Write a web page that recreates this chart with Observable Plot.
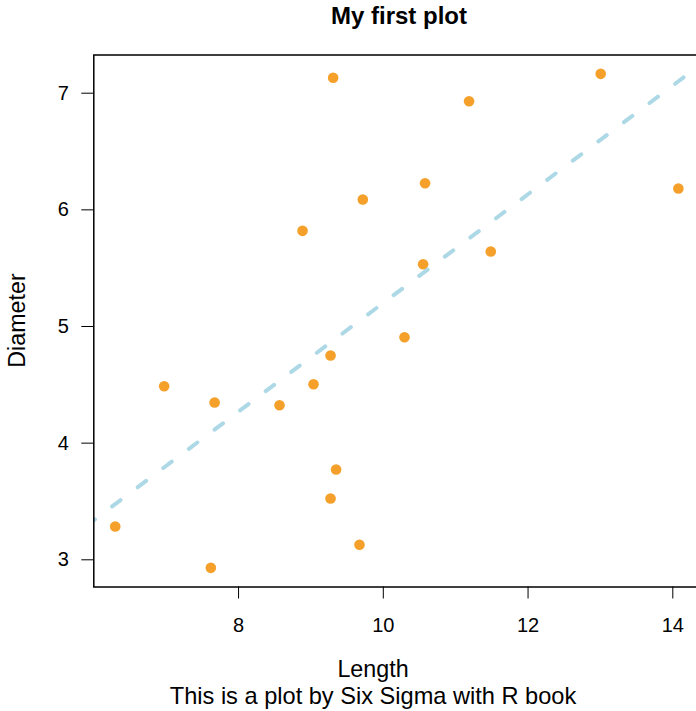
<!DOCTYPE html>
<html><head><meta charset="utf-8">
<script src="https://cdn.jsdelivr.net/npm/d3@7"></script>
<script src="https://cdn.jsdelivr.net/npm/@observablehq/plot@0.6"></script>
<style>html,body{margin:0;padding:0;background:#fff;overflow:hidden} svg{display:block}</style>
</head><body><div id="chart"></div>
<script>
const lengthValues = [9.307, 11.185, 13.004, 10.577, 9.717, 8.884, 14.077, 11.485, 10.550, 6.972,
  7.669, 8.566, 9.036, 9.271, 9.348, 9.271, 6.296, 7.617, 10.293, 9.671];
const diameterValues = [7.132, 6.931, 7.166, 6.228, 6.089, 5.820, 6.183, 5.643, 5.534, 4.488,
  4.348, 4.325, 4.505, 4.751, 3.774, 3.526, 3.285, 2.931, 4.908, 3.129];
const xTicks = [8, 10, 12, 14];
const yTicks = [3, 4, 5, 6, 7];
const titleText = "My first plot";
const xLabel = "Length";
const yLabel = "Diameter";
const captionText = "This is a plot by Six Sigma with R book";

const points = lengthValues.map((x, i) => ({length: x, diameter: diameterValues[i]}));
const mx = d3.mean(lengthValues), my = d3.mean(diameterValues);
const slope = d3.sum(points, d => (d.length - mx) * (d.diameter - my)) / d3.sum(points, d => (d.length - mx) ** 2);
const intercept = my - slope * mx;
const lineSpan = [5.9, 14.5];
const fitLine = lineSpan.map(x => ({length: x, diameter: intercept + slope * x}));

const font = "'Liberation Sans', Arial, Helvetica, sans-serif";
const chart = Plot.plot({
  width: 696,
  height: 711,
  marginLeft: 93.3,
  marginRight: -8,
  marginTop: 54.5,
  marginBottom: 124.5,
  style: {fontFamily: font, background: "#fff", color: "#000"},
  x: {domain: [6, 14], range: [93.3, 672.3]},
  y: {domain: [3, 7], range: [559.3, 92.7]},
  marks: [
    Plot.dot(points, {x: "length", y: "diameter", r: 5.3, fill: "#f4a02a", stroke: "none"}),
    Plot.line(fitLine, {x: "length", y: "diameter", stroke: "#add8e6", strokeWidth: 4,
      strokeDasharray: "10.5,21.5", strokeLinecap: "round", clip: true}),
    Plot.frame({stroke: "#000", strokeWidth: 1.5}),
    Plot.axisX(xTicks, {fontSize: 20, tickSize: 12, tickPadding: 19, label: null, stroke: "#000",
      tickFormat: d => String(d)}),
    Plot.axisY(yTicks, {fontSize: 20, tickSize: 12, tickPadding: 13, label: null, stroke: "#000",
      tickFormat: d => String(d)}),
    Plot.text([titleText], {frameAnchor: "top-left", dx: 305.2, dy: -39, text: d => d,
      textAnchor: "middle", lineAnchor: "middle", fontSize: 24, fontWeight: "bold", fill: "#000"}),
    Plot.text([xLabel], {frameAnchor: "bottom-left", dx: 279.2, dy: 83, text: d => d,
      textAnchor: "middle", lineAnchor: "middle", fontSize: 23.3, fill: "#000"}),
    Plot.text([captionText], {frameAnchor: "bottom-left", dx: 279.2, dy: 109.5, text: d => d,
      textAnchor: "middle", lineAnchor: "middle", fontSize: 23.6, fill: "#000"}),
    Plot.text([yLabel], {frameAnchor: "left", dx: -75.8, dy: -0.5, text: d => d, rotate: -90,
      textAnchor: "middle", lineAnchor: "middle", fontSize: 23.3, fill: "#000"})
  ]
});
document.getElementById("chart").appendChild(chart);
</script>
</body></html>
